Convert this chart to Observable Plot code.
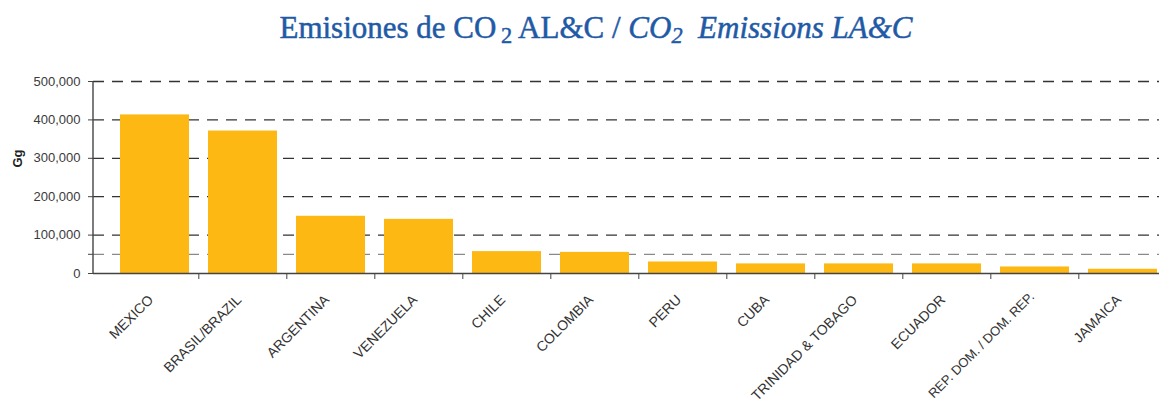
<!DOCTYPE html>
<html><head><meta charset="utf-8">
<script src="https://cdn.jsdelivr.net/npm/d3@7"></script>
<script src="https://cdn.jsdelivr.net/npm/@observablehq/plot@0.6"></script>
<style>
body{margin:0;background:#fff;}
#title{height:60px;position:relative;font-family:"Liberation Serif","Times New Roman",serif;color:#1f5aa6;}
#title span{position:absolute;left:33px;right:0;top:12px;text-align:center;font-size:31px;white-space:nowrap;line-height:1;-webkit-text-stroke:0.5px #1f5aa6;}
#title sub{font-size:0.72em;vertical-align:-0.22em;line-height:0;}
#title sub.sp{margin-left:0.2em;}
</style></head><body>
<div id="title"><span>Emisiones de CO<sub class="sp">2</sub> AL&amp;C / <i>CO<sub>2</sub>&nbsp; Emissions LA&amp;C</i></span></div>
<div id="chart"></div>
<script>
const categories = ["MEXICO","BRASIL/BRAZIL","ARGENTINA","VENEZUELA","CHILE","COLOMBIA","PERU","CUBA","TRINIDAD & TOBAGO","ECUADOR","REP. DOM. / DOM. REP.","JAMAICA"];
const values = [413000, 371000, 149000, 141000, 57000, 55000, 30000, 25000, 25000, 25000, 17000, 11000];
const yTicks = [0, 50000, 100000, 200000, 300000, 400000, 500000];
const yTickLabels = ["0", "", "100,000", "200,000", "300,000", "400,000", "500,000"];
const gridMajor = [100000, 200000, 300000, 400000, 500000];
const gridMinor = [50000];
const longLabels = ["REP. DOM. / DOM. REP."];

const data = categories.map((c, i) => ({country: c, value: values[i]}));
const labelOf = new Map(yTicks.map((t, i) => [t, yTickLabels[i]]));
const W = 1159, H = 345;
const step = 88.35, x0 = 108.2;

const plot = Plot.plot({
  width: W, height: H,
  marginLeft: 93, marginRight: 0, marginTop: 21, marginBottom: 132,
  style: {fontFamily: '"Liberation Sans", Arial, sans-serif', fontSize: "13px", color: "#3a3a3a", background: "#fff"},
  x: {type: "band", domain: categories, range: [x0, x0 + 12 * step], paddingInner: 0.214, paddingOuter: 0.107, align: 0.5},
  y: {domain: [0, 500000]},
  marks: [
    Plot.ruleY(gridMajor, {stroke: "#333", strokeWidth: 1.3, strokeDasharray: "11,8"}),
    Plot.ruleY(gridMinor, {stroke: "#8a8a8a", strokeWidth: 1.3, strokeDasharray: "11,8"}),
    Plot.barY(data, {x: "country", y: "value", fill: "#FDB813"}),
    Plot.ruleY([0], {stroke: "#444", strokeWidth: 1.4}),
    Plot.axisY({ticks: yTicks, tickFormat: d => labelOf.get(d), tickSize: 5, tickPadding: 8, label: null, fontSize: 13, stroke: "#444"}),
    Plot.axisX({ticks: categories.slice(1), tickSize: 6, dx: -step / 2, tickFormat: () => "", label: null, stroke: "#444"}),
    Plot.text(categories.filter(c => !longLabels.includes(c)), {x: d => d, frameAnchor: "bottom", dx: -4, dy: 24, rotate: -45, textAnchor: "end", lineAnchor: "middle", fontSize: 14, fill: "#333"}),
    Plot.text(longLabels, {x: d => d, frameAnchor: "bottom", dx: -3, dy: 21, rotate: -45, textAnchor: "end", lineAnchor: "middle", fontSize: 13, fill: "#333"}),
    Plot.text(["Gg"], {frameAnchor: "left", dx: -75.5, dy: -10, rotate: -90, fontWeight: "bold", fontSize: 13, fill: "#222"})
  ]
});

const ys = plot.scale("y");
d3.select(plot).append("line")
  .attr("x1", 93).attr("x2", 93)
  .attr("y1", ys.apply(0)).attr("y2", ys.apply(500000))
  .attr("stroke", "#444").attr("stroke-width", 1.4);

document.getElementById("chart").appendChild(plot);
</script>
</body></html>
